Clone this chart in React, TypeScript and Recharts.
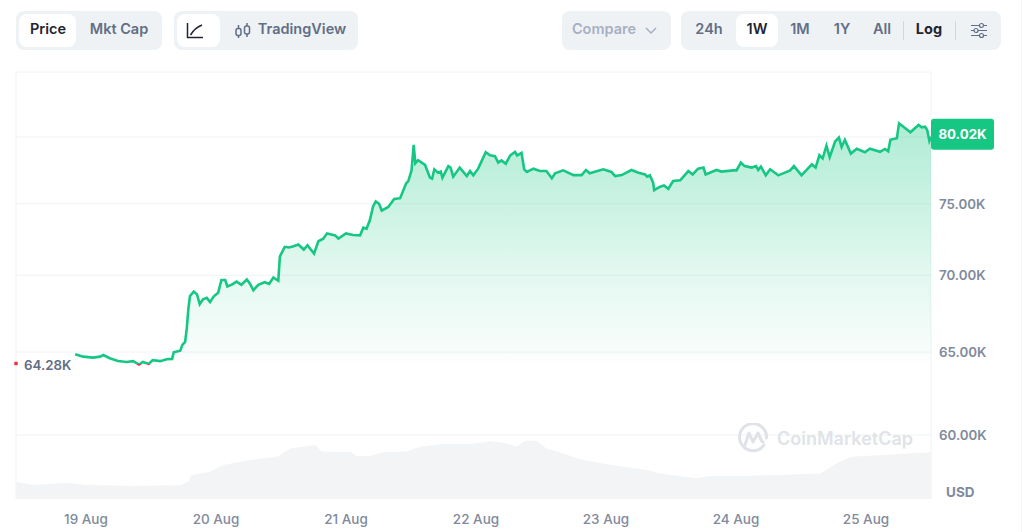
/**
 * App.tsx -- one week price chart with a volume strip underneath.
 * Header buttons are plain HTML, the chart itself is a Recharts ComposedChart.
 */
import { ComposedChart, Area, XAxis, YAxis, CartesianGrid, ReferenceLine } from 'recharts';

// Hours since 19 Aug 00:00 and the price (in thousands of USD) at that hour.
const priceHours = [
  -2.0, -0.5, 1.3, 2.6, 3.2, 4.4, 5.9, 7.5, 8.7, 9.8, 10.5, 11.6, 12.3, 13.7, 14.9, 15.9, 16.2, 17.4, 17.8, 18.3,
  18.6, 18.9, 19.2, 19.9, 20.5, 21.0, 21.6, 22.3, 22.9, 23.6, 24.4, 25.0, 25.7, 26.1, 27.0, 27.8, 28.7, 29.7, 30.3, 30.9,
  31.8, 33.0, 33.8, 34.6, 35.5, 35.8, 36.7, 37.5, 38.3, 39.2, 40.2, 40.9, 41.5, 42.1, 42.9, 43.8, 44.5, 46.0, 46.6, 48.0,
  49.3, 50.6, 51.2, 51.8, 52.4, 53.0, 53.5, 54.1, 54.6, 55.8, 56.9, 58.0, 59.1, 59.5, 60.1, 60.5, 60.8, 61.3, 62.6, 63.5,
  63.9, 64.3, 65.0, 65.5, 65.8, 66.9, 67.3, 67.8, 69.0, 70.3, 70.9, 71.5, 72.4, 73.1, 73.8, 74.6, 75.5, 76.1, 76.7, 77.5,
  78.3, 79.2, 79.6, 80.4, 80.9, 81.4, 82.6, 83.8, 85.0, 86.0, 86.6, 88.1, 90.0, 91.5, 92.3, 93.0, 95.5, 97.0, 97.7, 98.9,
  100.7, 102.0, 103.2, 103.6, 104.1, 104.7, 104.9, 106.0, 106.7, 107.5, 108.4, 109.7, 111.2, 112.0, 113.0, 114.0, 114.4, 116.4, 117.3, 119.5,
  120.1, 120.9, 121.6, 122.9, 123.7, 124.1, 124.6, 125.5, 126.3, 127.8, 128.7, 130.0, 130.7, 132.1, 134.0, 134.7, 135.4, 136.0, 136.7, 137.3,
  138.3, 139.0, 139.5, 140.1, 141.2, 142.3, 143.8, 144.7, 146.6, 147.5, 148.1, 148.5, 149.7, 150.1, 150.9, 152.2, 153.7, 154.3, 154.9, 155.3,
  155.7, 156.0,
];
const prices = [
  64.86, 64.71, 64.65, 64.71, 64.81, 64.61, 64.44, 64.38, 64.43, 64.22, 64.38, 64.26, 64.49, 64.43, 64.55, 64.57, 64.98, 65.08, 65.45, 65.64,
  66.47, 67.76, 68.61, 68.91, 68.72, 68.08, 68.40, 68.49, 68.21, 68.59, 68.83, 69.68, 69.68, 69.25, 69.39, 69.57, 69.36, 69.72, 69.42, 68.99,
  69.36, 69.53, 69.42, 69.85, 69.63, 71.29, 71.95, 71.90, 71.99, 72.11, 71.76, 72.06, 71.76, 71.48, 72.34, 72.51, 72.89, 72.75, 72.53, 72.89,
  72.78, 72.75, 73.29, 73.22, 73.82, 74.81, 75.17, 75.00, 74.51, 74.77, 75.35, 75.41, 76.49, 76.67, 77.46, 79.40, 77.99, 78.23, 77.87, 76.92,
  76.84, 77.54, 77.29, 77.37, 76.92, 77.78, 77.67, 76.99, 77.67, 77.04, 77.41, 77.09, 77.59, 78.21, 78.83, 78.60, 78.53, 78.04, 78.21, 77.96,
  78.58, 78.86, 78.58, 78.78, 77.54, 77.34, 77.59, 77.41, 77.41, 76.87, 77.24, 77.46, 77.11, 77.11, 77.49, 77.24, 77.54, 77.34, 77.04, 77.11,
  77.49, 77.29, 77.16, 76.99, 77.09, 76.55, 76.00, 76.25, 76.34, 76.10, 76.67, 76.72, 77.41, 77.16, 77.59, 77.67, 77.16, 77.49, 77.37, 77.46,
  77.46, 78.04, 77.78, 77.67, 77.78, 77.49, 77.74, 77.09, 77.54, 77.09, 77.24, 77.46, 77.78, 77.09, 77.91, 77.67, 78.60, 78.36, 79.33, 78.46,
  79.65, 79.95, 79.23, 79.78, 78.73, 79.10, 78.83, 79.10, 78.86, 79.08, 78.90, 79.78, 79.90, 81.06, 80.80, 80.36, 80.93, 80.75, 80.80, 80.54,
  79.70, 80.02,
];

// Volume strip (billions of USD, estimated from the height of the grey area).
const volumeHours = [
  -12.9, -9.8, -3.5, 0.2, 8.7, 17.4, 18.8, 19.5, 22.9, 25.3, 30.3, 35.3, 37.7, 42.3, 43.5, 49.0, 50.0, 52.4, 54.8, 59.2, 61.7,
  65.9, 70.9, 74.6, 77.0, 79.5, 81.0, 83.2, 85.0, 88.0, 91.2, 96.1, 103.5, 106.5, 112.7, 115.2, 118.9, 123.3, 135.6, 138.6, 141.2, 150.4, 156.0,
];
const volumes = [
  8.1, 6.6, 7.6, 6.6, 6.1, 6.4, 8.1, 11.2, 12.8, 15.9, 18.3, 19.8, 23.7, 25.3, 22.2, 21.9, 20.1, 20.1, 21.9, 22.2, 24.5,
  25.8, 25.8, 27.0, 26.4, 24.5, 27.3, 27.3, 23.7, 21.4, 18.6, 16.3, 13.6, 11.7, 9.7, 10.8, 10.8, 10.9, 12.0, 16.7, 19.8, 21.1, 21.9,
];

const xTicks = [0, 24, 48, 72, 96, 120, 144];
const xTickLabels = ['19 Aug', '20 Aug', '21 Aug', '22 Aug', '23 Aug', '24 Aug', '25 Aug'];
const yTicks = [60, 65, 70, 75, 80];
const openPrice = 64.28;
const lastPrice = 80.02;

const X_MIN = -12.92;
const X_MAX = 156;
const Y_MIN = 56.4;
const Y_MAX = 85.18;

const GREEN = '#16c784';
const RED = '#ea3943';
const GRID = '#eff2f5';
const FONT = 'Inter, sans-serif';

const priceRows = priceHours.map((hour, i) => ({ hour, price: prices[i] }));
const volumeRows = volumeHours.map((hour, i) => ({ hour, volume: volumes[i] }));

// Small absolutely placed text for the header buttons.
function Label({ cx, top = 30, children, color = '#616e85', weight = 600 }: any) {
  return (
    <div style={{
      position: 'absolute', left: cx - 60, width: 120, top: top - 11, height: 20, lineHeight: '20px',
      textAlign: 'center', fontSize: 14.5, fontWeight: weight, color,
    }}>
      {children}
    </div>
  );
}

function Box({ x, w, bg, y = 11, h = 39, r = 8 }: any) {
  return <div style={{ position: 'absolute', left: x, top: y, width: w, height: h, background: bg, borderRadius: r }} />;
}

// The 64.28K label sitting on the opening price level.
function OpenLabel({ viewBox }: any) {
  return (
    <g>
      <circle cx={viewBox.x} cy={viewBox.y} r={2} fill={RED} />
      <text x={viewBox.x + 8} y={viewBox.y + 6.5} fontSize={13.3} fontWeight={600} fill="#616e85" fontFamily={FONT}>
        {openPrice.toFixed(2)}K
      </text>
    </g>
  );
}

// Green badge with the latest price, right of the plot.
function LastBadge({ viewBox }: any) {
  const left = viewBox.x + viewBox.width;
  const top = viewBox.y - 18;
  return (
    <g>
      <rect x={left} y={top} width={63} height={31} rx={3} fill={GREEN} />
      <text x={left + 31.5} y={top + 20.5} textAnchor="middle" fontSize={13.3} fontWeight={700} fill="#fff" fontFamily={FONT}>
        {lastPrice.toFixed(2)}K
      </text>
    </g>
  );
}

export default function App() {
  return (
    <div style={{ position: 'absolute', left: 0, top: 0, width: 1024, height: 532, background: '#fff', overflow: 'hidden', fontFamily: FONT }}>

      {/* ------- Left button groups ------- */}
      <Box x={16} w={146} bg="#eff2f5" />
      <Box x={19} y={14} w={57} h={33} bg="#fff" />
      <Label cx={48} color="#222531">Price</Label>
      <Label cx={119}>Mkt Cap</Label>

      <Box x={174} w={184} bg="#eff2f5" />
      <Box x={177} y={14} w={43} h={33} bg="#fff" />
      <svg style={{ position: 'absolute', left: 186, top: 21 }} width={18} height={18} fill="none" stroke="#222531" strokeWidth={1.5}>
        <path d="M1.5 2V16.5H17" />
        <path d="M4.5 14C8 8 11 6 16 4" />
      </svg>
      <svg style={{ position: 'absolute', left: 234, top: 22 }} width={18} height={17} fill="none" stroke="#616e85" strokeWidth={1.5}>
        <rect x={2} y={6.5} width={5} height={7} rx={2} />
        <rect x={10.5} y={4} width={5} height={8} rx={2} />
        <path d="M4.5 3V6.5M4.5 13.5V16M13 1V4M13 12V15" />
      </svg>
      <Label cx={302}>TradingView</Label>

      {/* ------- Right button groups ------- */}
      <Box x={562} w={109} bg="#eff2f5" />
      <Label cx={604} color="#a6b0c3">Compare</Label>
      <svg style={{ position: 'absolute', left: 644, top: 26 }} width={14} height={9} fill="none" stroke="#a6b0c3" strokeWidth={1.5}>
        <path d="M2 2L7 7L12 2" />
      </svg>

      <Box x={681} w={320} bg="#eff2f5" />
      <Box x={736} y={14} w={42} h={33} bg="#fff" />
      <Label cx={709}>24h</Label>
      <Label cx={757} color="#222531">1W</Label>
      <Label cx={800}>1M</Label>
      <Label cx={842}>1Y</Label>
      <Label cx={882}>All</Label>
      <Box x={903} y={21} w={1} h={19} bg="#cfd6e4" r={0} />
      <Label cx={929} color="#222531" weight={700}>Log</Label>
      <Box x={955} y={21} w={1} h={19} bg="#cfd6e4" r={0} />
      <svg style={{ position: 'absolute', left: 970, top: 22 }} width={18} height={17} fill="#eff2f5" stroke="#616e85" strokeWidth={1.2}>
        <path d="M1 3.5H17M1 8.5H17M1 13.5H17" />
        <circle cx={11.5} cy={3.5} r={2} />
        <circle cx={6} cy={8.5} r={2} />
        <circle cx={11.5} cy={13.5} r={2} />
      </svg>

      {/* ------- Chart ------- */}
      <div style={{ position: 'absolute', left: 0, top: 0 }}>
        <ComposedChart width={1024} height={532} margin={{ top: 72, left: 16, right: 0, bottom: 0 }}>
          <defs>
            <linearGradient id="priceFill" x1="0" y1="0" x2="0" y2="1">
              <stop offset="0%" stopColor={GREEN} stopOpacity={0.34} />
              <stop offset="60%" stopColor={GREEN} stopOpacity={0.13} />
              <stop offset="95%" stopColor={GREEN} stopOpacity={0.03} />
              <stop offset="100%" stopColor={GREEN} stopOpacity={0} />
            </linearGradient>
            {/* green above the opening price, red below it */}
            <linearGradient id="priceStroke" gradientUnits="userSpaceOnUse" x1="0" y1="72" x2="0" y2="499">
              <stop offset="68.3%" stopColor={GREEN} />
              <stop offset="68.3%" stopColor={RED} />
            </linearGradient>
          </defs>

          <XAxis
            type="number"
            dataKey="hour"
            domain={[X_MIN, X_MAX]}
            ticks={xTicks}
            allowDataOverflow
            tickFormatter={(h: number) => xTickLabels[xTicks.indexOf(h)]}
            tick={{ fontSize: 13.5, fontWeight: 500, fill: '#808a9d', fontFamily: FONT }}
            axisLine={false}
            tickLine={false}
            tickMargin={9}
            height={33}
            interval={0}
          />
          <YAxis
            yAxisId="price"
            orientation="right"
            type="number"
            scale="log"
            domain={[Y_MIN, Y_MAX]}
            ticks={yTicks}
            allowDataOverflow
            // the 80K level keeps its grid line, the badge takes the place of its label
            tickFormatter={(v: number) => (v === 80 ? '' : `${v.toFixed(2)}K`)}
            tick={{ fontSize: 13.3, fontWeight: 600, fill: '#808a9d', fontFamily: FONT }}
            axisLine={false}
            tickLine={false}
            tickMargin={2}
            width={93}
            interval={0}
          />
          <YAxis yAxisId="volume" hide type="number" domain={[0, 200]} allowDataOverflow />

          <Area
            yAxisId="volume"
            data={volumeRows}
            dataKey="volume"
            type="linear"
            stroke="none"
            fill="#f2f4f6"
            fillOpacity={1}
            dot={false}
            activeDot={false}
            isAnimationActive={false}
          />
          <CartesianGrid
            yAxisId="price"
            stroke={GRID}
            horizontalValues={[...yTicks, Y_MAX]}
            verticalValues={[X_MIN, X_MAX]}
          />
          <Area
            yAxisId="price"
            data={priceRows}
            dataKey="price"
            type="linear"
            baseValue={openPrice}
            stroke="url(#priceStroke)"
            strokeWidth={2.6}
            fill="url(#priceFill)"
            fillOpacity={1}
            dot={false}
            activeDot={false}
            isAnimationActive={false}
          />
          <ReferenceLine yAxisId="price" y={openPrice} stroke="none" label={<OpenLabel />} />
          <ReferenceLine yAxisId="price" y={lastPrice} stroke="none" label={<LastBadge />} />
        </ComposedChart>
      </div>

      {/* ------- Overlays: unit label and watermark ------- */}
      <div style={{ position: 'absolute', left: 946, top: 484, fontSize: 13.5, fontWeight: 700, color: '#808a9d', lineHeight: '17px' }}>USD</div>
      <svg style={{ position: 'absolute', left: 737, top: 423 }} width={32} height={32} fill="none" stroke="#dfe2e7" strokeWidth={3}>
        <path d="M27 22A13.5 13.5 0 1 1 29.5 15" strokeLinecap="round" />
        <path d="M8 22L12 10L16 19L21 10C23 12 23 18 26 19" strokeLinejoin="round" strokeLinecap="round" />
      </svg>
      <div style={{ position: 'absolute', left: 777, top: 427, fontSize: 18, fontWeight: 600, color: '#e0e3e8', lineHeight: '24px', whiteSpace: 'nowrap' }}>
        CoinMarketCap
      </div>
      <div style={{ position: 'absolute', left: 1021, top: 0, width: 1, height: 532, background: '#f5f6f8' }} />
    </div>
  );
}
